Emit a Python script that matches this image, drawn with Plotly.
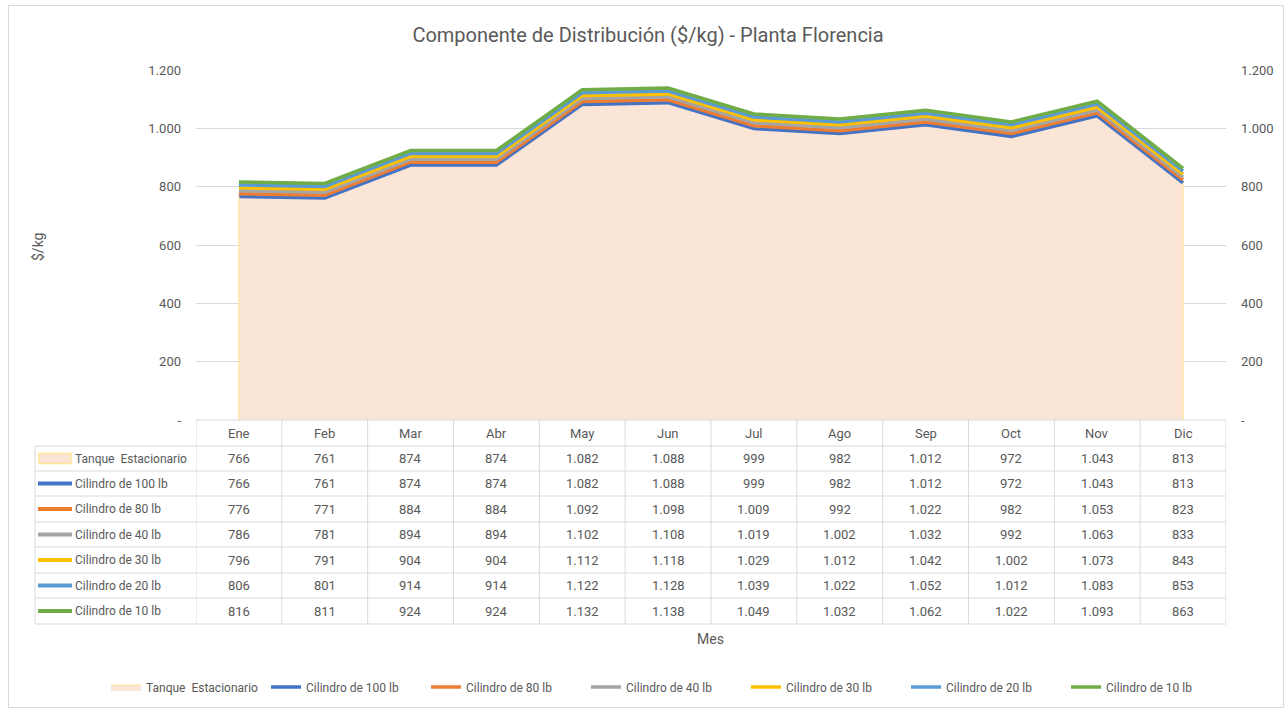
import plotly.graph_objects as go

meses = ["Ene", "Feb", "Mar", "Abr", "May", "Jun", "Jul", "Ago", "Sep", "Oct", "Nov", "Dic"]
tanque = [766, 761, 874, 874, 1082, 1088, 999, 982, 1012, 972, 1043, 813]
cil_100 = [766, 761, 874, 874, 1082, 1088, 999, 982, 1012, 972, 1043, 813]
cil_80 = [776, 771, 884, 884, 1092, 1098, 1009, 992, 1022, 982, 1053, 823]
cil_40 = [786, 781, 894, 894, 1102, 1108, 1019, 1002, 1032, 992, 1063, 833]
cil_30 = [796, 791, 904, 904, 1112, 1118, 1029, 1012, 1042, 1002, 1073, 843]
cil_20 = [806, 801, 914, 914, 1122, 1128, 1039, 1022, 1052, 1012, 1083, 853]
cil_10 = [816, 811, 924, 924, 1132, 1138, 1049, 1032, 1062, 1022, 1093, 863]
y_ticks = [0, 200, 400, 600, 800, 1000, 1200]

FONT = "Roboto, sans-serif"
TXT = "#595959"
GRID = "#D9D9D9"

W, H = 1284, 708
# plot area in screen pixels
L, R, T, B = 196, 1226, 70, 420


def px(x):
    return (x - L) / (R - L)


def py(y):
    return (B - y) / (B - T)


def fmt(v):
    if v == 0:
        return "-"
    return f"{v:,}".replace(",", ".")


xs = list(range(len(meses)))
lines = [
    ("Cilindro de 100 lb", cil_100, "#4472C4"),
    ("Cilindro de 80 lb", cil_80, "#ED7D31"),
    ("Cilindro de 40 lb", cil_40, "#A5A5A5"),
    ("Cilindro de 30 lb", cil_30, "#FFC000"),
    ("Cilindro de 20 lb", cil_20, "#5B9BD5"),
    ("Cilindro de 10 lb", cil_10, "#70AD47"),
]

fig = go.Figure()
fig.add_trace(go.Scatter(
    x=xs, y=tanque, name="Tanque  Estacionario", mode="lines",
    fill="tozeroy", fillcolor="#FBE5D6", line=dict(color="#FFE699", width=1.2),
))
for name, vals, col in lines:
    fig.add_trace(go.Scatter(x=xs, y=vals, name=name, mode="lines",
                             line=dict(color=col, width=3.5)))
fig.add_trace(go.Scatter(x=xs, y=tanque, yaxis="y2", mode="lines",
                         line=dict(width=0, color="rgba(0,0,0,0)"),
                         showlegend=False, hoverinfo="skip"))

shapes = []
annotations = []

# area side edges
for i in (0, len(xs) - 1):
    shapes.append(dict(type="line", xref="x", yref="y", x0=xs[i], x1=xs[i], y0=0,
                       y1=tanque[i], line=dict(color="#FFE699", width=1.2), layer="above"))

# outer chart border
shapes.append(dict(type="rect", xref="paper", yref="paper",
                   x0=px(8.5), x1=px(1283.5), y0=py(5.5), y1=py(707.5),
                   line=dict(color="#D9D9D9", width=1), layer="below"))

row_edges = [420, 446, 471, 496, 522, 547, 573, 598, 624]
row_centers = [(row_edges[i] + row_edges[i + 1]) / 2 for i in range(len(row_edges) - 1)]
TBL = "#D9D9D9"
shapes.append(dict(type="line", xref="paper", yref="paper", x0=0, x1=1,
                   y0=py(420), y1=py(420), line=dict(color=TBL, width=1)))
for e in row_edges[1:]:
    shapes.append(dict(type="line", xref="paper", yref="paper", x0=px(35), x1=1,
                       y0=py(e), y1=py(e), line=dict(color=TBL, width=1)))
shapes.append(dict(type="line", xref="paper", yref="paper", x0=px(35), x1=px(35),
                   y0=py(446), y1=py(624), line=dict(color=TBL, width=1)))
for k in range(len(meses) + 1):
    shapes.append(dict(type="line", xref="x", yref="paper", x0=k - 0.5, x1=k - 0.5,
                       y0=py(420), y1=py(624), line=dict(color=TBL, width=1)))

CELL = dict(family=FONT, size=13, color=TXT)
for i, m in enumerate(meses):
    annotations.append(dict(x=i, y=py(row_centers[0]), xref="x", yref="paper", text=m,
                            xanchor="center", yanchor="middle", showarrow=False, font=CELL))

rows = [("Tanque  Estacionario", tanque, None)] + lines
for r, (name, vals, col) in enumerate(rows):
    yc = row_centers[r + 1]
    if col is None:
        shapes.append(dict(type="rect", xref="paper", yref="paper", x0=px(39), x1=px(71),
                           y0=py(yc + 5), y1=py(yc - 5), fillcolor="#FBE5D6",
                           line=dict(color="#FFE699", width=1.5)))
    else:
        shapes.append(dict(type="line", xref="paper", yref="paper", x0=px(38), x1=px(72),
                           y0=py(yc), y1=py(yc), line=dict(color=col, width=4)))
    annotations.append(dict(x=px(73), y=py(yc), xref="paper", yref="paper", text=name,
                            xanchor="left", yanchor="middle", showarrow=False,
                            font=dict(family=FONT, size=12, color=TXT)))
    for i, v in enumerate(vals):
        annotations.append(dict(x=i, y=py(yc), xref="x", yref="paper", text=fmt(v),
                                xanchor="center", yanchor="middle",
                                showarrow=False, font=CELL))

annotations.append(dict(x=px(710), y=py(639), xref="paper", yref="paper", text="Mes",
                        xanchor="center", yanchor="middle",
                        showarrow=False, font=dict(family=FONT, size=14, color=TXT)))
annotations.append(dict(x=px(38), y=py(247), xref="paper", yref="paper", text="$/kg",
                        textangle=-90, xanchor="center", yanchor="middle", showarrow=False,
                        font=dict(family=FONT, size=14, color=TXT)))

fig.update_layout(
    width=W, height=H,
    margin=dict(l=L, r=W - R, t=T, b=H - B, pad=0, autoexpand=False),
    paper_bgcolor="white", plot_bgcolor="white",
    font=dict(family=FONT, size=13, color=TXT),
    title=dict(text="Componente de Distribución ($/kg) - Planta Florencia",
               x=648 / W, xanchor="center", y=1 - 35 / H, yanchor="middle",
               font=dict(family=FONT, size=20, color=TXT)),
    xaxis=dict(range=[-0.5, 11.5], showticklabels=False, showgrid=False,
               zeroline=False, showline=False, ticks="", automargin=False),
    yaxis=dict(range=[0, 1200], tickvals=y_ticks, ticktext=[fmt(v) for v in y_ticks],
               showgrid=True, gridcolor=GRID, gridwidth=1, zeroline=False,
               showline=False, ticks="", ticklabelstandoff=14, automargin=False,
               tickfont=dict(family=FONT, size=13, color=TXT)),
    yaxis2=dict(range=[0, 1200], overlaying="y", side="right", tickvals=y_ticks,
                ticktext=[fmt(v) for v in y_ticks], showgrid=False, zeroline=False,
                showline=False, ticks="", ticklabelstandoff=14, automargin=False,
                tickfont=dict(family=FONT, size=13, color=TXT)),
    showlegend=True,
    legend=dict(orientation="h", x=px(106), y=py(687), xanchor="left", yanchor="middle",
                font=dict(family=FONT, size=12, color=TXT), bgcolor="rgba(0,0,0,0)",
                entrywidth=115, entrywidthmode="pixels", itemwidth=30),
    shapes=shapes,
    annotations=annotations,
)

fig.write_html("out.html", config={"displayModeBar": False},
               post_script="document.body.style.margin='0px';document.body.style.overflow='hidden';")
